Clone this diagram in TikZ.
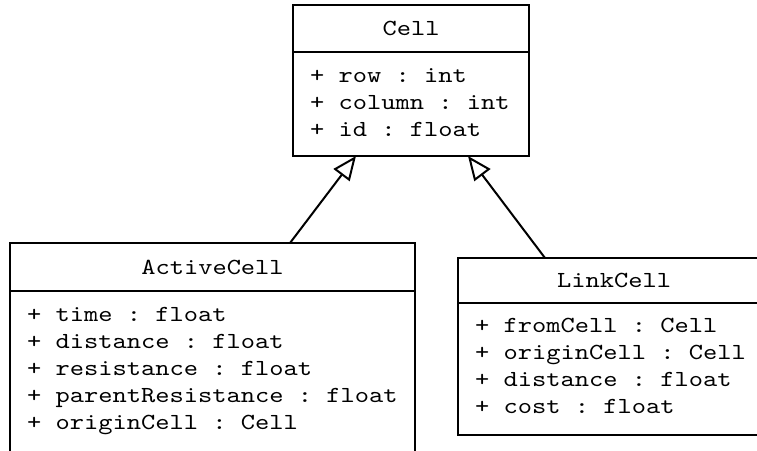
\documentclass[tikz,border=0pt]{standalone}
\usepackage{fontspec}
\setmonofont{lmmono10-regular.otf}[FakeStretch=1.18]
\usetikzlibrary{arrows.meta,positioning}
\DeclareRobustCommand{\umlfont}{\ttfamily\fontsize{23}{27.2}\selectfont}
\newcommand{\gap}{\hspace*{14.25pt}}

\begin{document}
\begin{tikzpicture}[x=1pt, y=-1pt,
    classhead/.style ={rectangle, draw, line width=2pt, inner sep=0pt, outer sep=0pt, font=\umlfont},
    classbody/.style ={rectangle, draw, line width=2pt, inner sep=0pt, outer sep=0pt},
    attrlist/.style ={anchor=base west, inner sep=0pt, align=left, text width=380pt, font=\umlfont},
    inherit/.style ={line width=2pt, -{Triangle[open, length=24pt, width=20pt, line width=2pt]}}]
   \useasboundingbox (0,0) rectangle (757,450);
   \clip (0,0) rectangle (757,450);
   % classes
   \node[classhead, minimum width=236pt, minimum height=47pt] (cellhead) at (411,28.5) {Cell};
   \node[classbody, minimum width=236pt, minimum height=104pt, below=0pt of cellhead] (cellbody) {};
   \node[classhead, minimum width=405pt, minimum height=48pt] (achead) at (212.5,267) {ActiveCell};
   \node[classbody, minimum width=405pt, minimum height=180pt, below=0pt of achead] (acbody) {};
   \node[classhead, minimum width=312pt, minimum height=45pt] (lchead) at (614,280.5) {LinkCell};
   \node[classbody, minimum width=312pt, minimum height=132pt, below=0pt of lchead] (lcbody) {};
   % attributes
   \node[attrlist] (cellattr) at ([xshift=17pt, yshift=-30pt]cellbody.north west)
     {+\gap row\gap:\gap int\\+\gap column\gap:\gap int\\+\gap id\gap:\gap float};
   \node[attrlist] (acattr) at ([xshift=17pt, yshift=-30pt]acbody.north west)
     {+\gap time\gap:\gap float\\+\gap distance\gap:\gap float\\+\gap resistance\gap:\gap float\\
      +\gap parentResistance\gap:\gap float\\+\gap originCell\gap:\gap Cell};
   \node[attrlist] (lcattr) at ([xshift=17pt, yshift=-29pt]lcbody.north west)
     {+\gap fromCell\gap:\gap Cell\\+\gap originCell\gap:\gap Cell\\+\gap distance\gap:\gap float\\
      +\gap cost\gap:\gap float};
   % generalisation
   \draw[inherit] ([xshift=77.5pt]achead.north) -- ([xshift=-55pt]cellbody.south);
   \draw[inherit] ([xshift=-69pt]lchead.north) -- ([xshift=57pt]cellbody.south);
 \end{tikzpicture}
\end{document}
